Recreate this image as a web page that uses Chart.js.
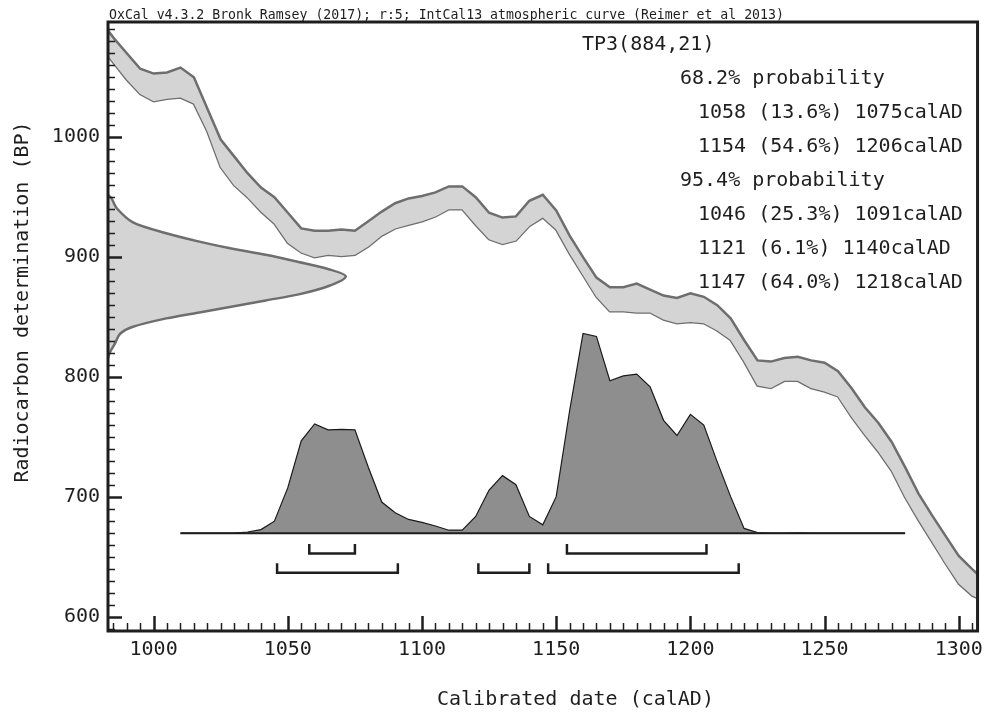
<!DOCTYPE html>
<html>
<head>
<meta charset="utf-8">
<title>TP3 calibration</title>
<script src="https://cdn.jsdelivr.net/npm/chart.js@4.4.1/dist/chart.umd.min.js"></script>
<style>
  html, body { margin: 0; padding: 0; background: #fff; }
  #wrap { width: 990px; height: 716px; }
</style>
</head>
<body>
<div id="wrap"><canvas id="calChart" width="990" height="716"></canvas></div>
<script>
// IntCal13 band (calAD, BP upper / lower edge)
const calYears = [983, 985, 990, 995, 1000, 1005, 1010, 1015, 1020, 1025, 1030, 1035, 1040, 1045, 1050, 1055, 1060, 1065, 1070, 1075,
  1080, 1085, 1090, 1095, 1100, 1105, 1110, 1115, 1120, 1125, 1130, 1135, 1140, 1145, 1150, 1155, 1160, 1165, 1170, 1175,
  1180, 1185, 1190, 1195, 1200, 1205, 1210, 1215, 1220, 1225, 1230, 1235, 1240, 1245, 1250, 1255, 1260, 1265, 1270, 1275,
  1280, 1285, 1290, 1295, 1300, 1305, 1307];
const calUpper = [1089, 1083, 1070, 1057, 1053, 1054, 1058, 1050, 1024, 998, 984, 970, 958, 950, 937, 924, 922, 922, 923, 922,
  930, 938, 945, 949, 951, 954, 959, 959, 950, 937, 933, 934, 947, 952, 939, 918, 900, 883, 875, 875,
  878, 873, 868, 866, 870, 867, 860, 849, 831, 814, 813, 816, 817, 814, 812, 805, 791, 775, 762, 746,
  725, 703, 685, 668, 651, 640, 636];
const calLower = [1068, 1062, 1048, 1036, 1030, 1032, 1033, 1028, 1005, 975, 960, 950, 938, 928, 912, 904, 900, 902, 901, 902,
  909, 918, 924, 927, 930, 934, 940, 940, 927, 915, 911, 914, 926, 933, 923, 903, 885, 867, 855, 855,
  854, 854, 848, 845, 846, 845, 839, 831, 813, 793, 791, 797, 797, 791, 788, 784, 767, 752, 738, 722,
  700, 681, 663, 645, 628, 618, 616];

// measurement TP3 884 +/- 21, outline of its distribution on the BP axis
const sampleName = 'TP3';
const sampleBP = 884;
const sampleErr = 21;
const gaussBP = [952, 949, 941, 929, 920, 913, 907, 902, 896, 890, 884, 876, 869, 864, 859, 854, 849, 842, 836, 828, 820, 816];
const gaussDensity = [0, 0.015, 0.036, 0.105, 0.245, 0.384, 0.524, 0.663, 0.802, 0.928, 1, 0.928, 0.802, 0.663, 0.524, 0.384, 0.245, 0.105, 0.05, 0.029, 0.006, 0];

// calibrated probability (relative)
const postYears = [1010, 1015, 1020, 1025, 1030, 1035, 1040, 1045, 1050, 1055, 1060, 1065, 1070, 1075, 1080, 1085, 1090, 1095, 1100, 1105,
  1110, 1115, 1120, 1125, 1130, 1135, 1140, 1145, 1150, 1155, 1160, 1165, 1170, 1175, 1180, 1185, 1190, 1195, 1200, 1205,
  1210, 1215, 1220, 1225, 1230, 1235, 1240, 1245, 1250, 1255, 1260, 1265, 1270, 1275, 1280];
const postProb = [0, 0, 0, 0, 0.001, 0.006, 0.018, 0.06, 0.228, 0.462, 0.547, 0.517, 0.52, 0.517, 0.33, 0.156, 0.102, 0.069, 0.054, 0.036,
  0.015, 0.015, 0.084, 0.216, 0.288, 0.243, 0.084, 0.042, 0.183, 0.613, 1, 0.985, 0.763, 0.787, 0.796, 0.733, 0.565, 0.489, 0.595, 0.541,
  0.357, 0.183, 0.024, 0.003, 0, 0.001, 0.002, 0.001, 0, 0, 0, 0, 0, 0, 0];

// ranges: [from, to, percent]
const range68 = [[1058, 1075, 13.6], [1154, 1206, 54.6]];
const range95 = [[1046, 1091, 25.3], [1121, 1140, 6.1], [1147, 1218, 64.0]];

const xTicks = [1000, 1050, 1100, 1150, 1200, 1250, 1300];
const yTicks = [600, 700, 800, 900, 1000];

const X_MIN = 983, X_MAX = 1307, Y_MIN = 588.5, Y_MAX = 1096;
const POST_BASE = 670, POST_HEIGHT = 166.5;   // where the calibrated curve sits (BP units)
const GAUSS_WIDTH = 88.6;                      // peak width of the measurement curve (years)
const INK = '#1e1e1e';
const FONT = "'DejaVu Sans Mono', 'Liberation Mono', monospace";

const band = (ys) => calYears.map((yr, i) => ({ x: yr, y: ys[i] }));

function bracketPoints(ranges, top, bottom) {
  const pts = [];
  ranges.forEach(r => {
    pts.push({ x: r[0], y: top }, { x: r[0], y: bottom }, { x: r[1], y: bottom }, { x: r[1], y: top });
    pts.push({ x: r[1], y: null });
  });
  return pts;
}

const legendLines = [
  { text: `${sampleName}(${sampleBP},${sampleErr})`, x: 582 },
  { text: '68.2% probability', x: 680 },
  ...range68.map(r => ({ text: `${r[0]} (${r[2].toFixed(1)}%) ${r[1]}calAD`, x: 698 })),
  { text: '95.4% probability', x: 680 },
  ...range95.map(r => ({ text: `${r[0]} (${r[2].toFixed(1)}%) ${r[1]}calAD`, x: 698 }))
];

const decorations = {
  id: 'decorations',
  afterDatasetsDraw(chart) {
    const { ctx, chartArea: a, scales: { x, y } } = chart;
    ctx.save();
    ctx.strokeStyle = INK;
    // inward ticks
    for (let v = 985; v <= 1305; v += 5) {
      const major = v % 50 === 0;
      const px = Math.round(x.getPixelForValue(v)) + 0.5;
      ctx.lineWidth = major ? 2.5 : 1.5;
      ctx.beginPath();
      ctx.moveTo(px, a.bottom);
      ctx.lineTo(px, a.bottom - (major ? 15 : 8));
      ctx.stroke();
    }
    for (let v = 590; v <= 1090; v += 10) {
      const major = v % 100 === 0;
      const py = Math.round(y.getPixelForValue(v)) + 0.5;
      ctx.lineWidth = major ? 2.5 : 1.5;
      ctx.beginPath();
      ctx.moveTo(a.left, py);
      ctx.lineTo(a.left + (major ? 14 : 7), py);
      ctx.stroke();
    }
    ctx.lineWidth = 3;
    ctx.strokeRect(a.left, a.top, a.right - a.left, a.bottom - a.top);
    ctx.restore();
  },
  afterDraw(chart) {
    const { ctx } = chart;
    ctx.save();
    ctx.fillStyle = INK;
    ctx.textBaseline = 'alphabetic';
    ctx.textAlign = 'left';
    ctx.font = `13.2px ${FONT}`;
    ctx.fillText('OxCal v4.3.2 Bronk Ramsey (2017); r:5; IntCal13 atmospheric curve (Reimer et al 2013)', 109, 19);

    ctx.font = `20px ${FONT}`;
    ctx.textBaseline = 'middle';
    legendLines.forEach((l, i) => ctx.fillText(l.text, l.x, 45 + i * 34));

    ctx.fillText('Calibrated date (calAD)', 437, 700);

    ctx.translate(23, 302);
    ctx.rotate(-Math.PI / 2);
    ctx.textAlign = 'center';
    ctx.fillText('Radiocarbon determination (BP)', 0, 0);
    ctx.restore();
  }
};

Chart.defaults.font.family = FONT;

new Chart(document.getElementById('calChart'), {
  type: 'line',
  data: {
    datasets: [
      {
        label: '68.2% range',
        data: bracketPoints(range68, 661, 653),
        borderColor: INK, borderWidth: 2.5, pointRadius: 0, fill: false, spanGaps: false
      },
      {
        label: '95.4% range',
        data: bracketPoints(range95, 645, 637),
        borderColor: INK, borderWidth: 2.5, pointRadius: 0, fill: false, spanGaps: false
      },
      {
        label: 'baseline',
        data: [{ x: postYears[0], y: POST_BASE }, { x: postYears[postYears.length - 1], y: POST_BASE }],
        borderColor: INK, borderWidth: 2, pointRadius: 0, fill: false
      },
      {
        label: 'Calibrated',
        data: postYears.map((yr, i) => ({ x: yr, y: POST_BASE + postProb[i] * POST_HEIGHT })),
        borderColor: '#1a1a1a', borderWidth: 1.2, backgroundColor: '#8e8e8e',
        pointRadius: 0, fill: { value: POST_BASE }
      },
      {
        label: 'Measurement',
        data: gaussBP.map((bp, i) => ({ x: X_MIN + gaussDensity[i] * GAUSS_WIDTH, y: bp })),
        borderColor: '#6e6e6e', borderWidth: 2.5, backgroundColor: '#d4d4d4',
        pointRadius: 0, fill: 'shape', tension: 0.3
      },
      {
        label: 'IntCal13 upper',
        data: band(calUpper),
        borderColor: '#6e6e6e', borderWidth: 2.5, backgroundColor: '#d4d4d4',
        pointRadius: 0, fill: '+1'
      },
      {
        label: 'IntCal13 lower',
        data: band(calLower),
        borderColor: '#6e6e6e', borderWidth: 2.5,
        pointRadius: 0, fill: false
      }
    ]
  },
  options: {
    responsive: false,
    animation: false,
    devicePixelRatio: 1,
    layout: { autoPadding: false, padding: { top: 22, right: 7, left: 0, bottom: 0 } },
    plugins: { legend: { display: false }, tooltip: { enabled: false }, title: { display: false } },
    elements: { line: { tension: 0 } },
    scales: {
      x: {
        type: 'linear', min: X_MIN, max: X_MAX,
        afterBuildTicks: s => { s.ticks = xTicks.map(v => ({ value: v })); },
        afterFit: s => { s.height = 85; },
        grid: { display: false, drawTicks: false },
        border: { display: false },
        ticks: { color: INK, font: { size: 20 }, padding: 7, maxRotation: 0, autoSkip: false, callback: v => String(v) }
      },
      y: {
        type: 'linear', min: Y_MIN, max: Y_MAX,
        afterBuildTicks: s => { s.ticks = yTicks.map(v => ({ value: v })); },
        afterFit: s => { s.width = 108; },
        grid: { display: false, drawTicks: false },
        border: { display: false },
        ticks: { color: INK, font: { size: 20 }, padding: 8, autoSkip: false, callback: v => String(v) }
      }
    }
  },
  plugins: [decorations]
});
</script>
</body>
</html>
